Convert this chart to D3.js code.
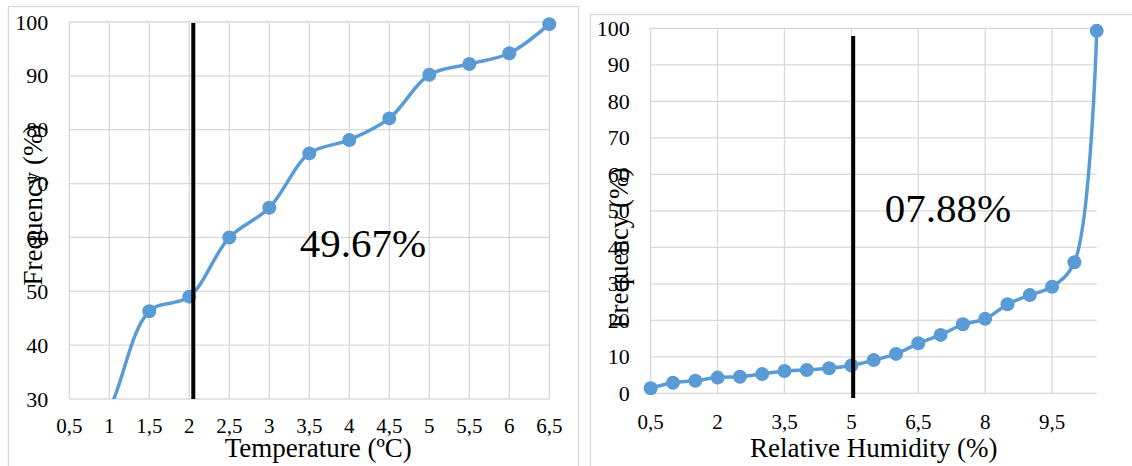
<!DOCTYPE html>
<html>
<head>
<meta charset="utf-8">
<script src="https://cdn.jsdelivr.net/npm/d3@7"></script>
<style>
  html, body { margin: 0; padding: 0; background: #ffffff; }
  svg { display: block; }
</style>
</head>
<body>
<svg id="chart" width="1132" height="466"></svg>
<script>
// Cumulative frequency vs. temperature
const tempCategories = ["0,5", "1", "1,5", "2", "2,5", "3", "3,5", "4", "4,5", "5", "5,5", "6", "6,5"];
const tempValues = [0.5, 1, 1.5, 2, 2.5, 3, 3.5, 4, 4.5, 5, 5.5, 6, 6.5];
const tempFrequency = [15, 28, 46.3, 49.0, 60.0, 65.5, 75.6, 78.1, 82.1, 90.2, 92.2, 94.2, 99.6];
const tempYTicks = [30, 40, 50, 60, 70, 80, 90, 100];
const tempCutoff = 2.05;
const tempCutoffLabel = "49.67%";

// Cumulative frequency vs. relative humidity
const humCategories = ["0,5", "1", "1,5", "2", "2,5", "3", "3,5", "4", "4,5", "5", "5,5",
                       "6", "6,5", "7", "7,5", "8", "8,5", "9", "9,5", "10", "10,5"];
const humValues = [0.5, 1, 1.5, 2, 2.5, 3, 3.5, 4, 4.5, 5, 5.5, 6, 6.5, 7, 7.5, 8, 8.5, 9, 9.5, 10, 10.5];
const humFrequency = [1.4, 2.9, 3.45, 4.3, 4.55, 5.3, 6.1, 6.4, 6.85, 7.6, 9.1,
                      10.8, 13.7, 16.0, 18.9, 20.4, 24.4, 26.9, 29.2, 35.9, 99.3];
const humXTickLabels = ["0,5", "2", "3,5", "5", "6,5", "8", "9,5"];
const humYTicks = [0, 10, 20, 30, 40, 50, 60, 70, 80, 90, 100];
const humCutoff = 5.04;
const humCutoffLabel = "07.88%";

const svg = d3.select("#chart");
const BLUE = "#5b9bd5";
const GRID = "#d9d9d9";
const FONT = "'Liberation Serif', 'Times New Roman', serif";

function drawPanel(p) {
  const g = svg.append("g").attr("font-family", FONT).attr("fill", "#000");

  // chart frame
  g.append("rect")
    .attr("x", p.frame[0]).attr("y", p.frame[1])
    .attr("width", p.frame[2]).attr("height", p.frame[3])
    .attr("fill", "none").attr("stroke", GRID).attr("stroke-width", 1.3);

  const x = d3.scalePoint().domain(p.categories).range([p.left, p.right]);
  const xv = d3.scaleLinear().domain([p.values[0], p.values[p.values.length - 1]]).range([p.left, p.right]);
  const y = d3.scaleLinear().domain(p.yDomain).range([p.bottom, p.top]);

  // horizontal gridlines
  g.append("g").selectAll("line").data(p.yTicks).join("line")
    .attr("x1", p.left).attr("x2", p.right)
    .attr("y1", d => y(d)).attr("y2", d => y(d))
    .attr("stroke", GRID).attr("stroke-width", 1.3);

  // vertical gridlines
  g.append("g").selectAll("line").data(p.xGrid).join("line")
    .attr("x1", d => x(d)).attr("x2", d => x(d))
    .attr("y1", p.top).attr("y2", p.bottom)
    .attr("stroke", GRID).attr("stroke-width", 1.3);

  // y tick labels
  g.append("g").selectAll("text").data(p.yTicks).join("text")
    .attr("x", p.left - 21).attr("y", d => y(d))
    .attr("text-anchor", "end").attr("dominant-baseline", "central")
    .attr("font-family", FONT).attr("font-size", 22)
    .text(d => d);

  // x tick labels
  g.append("g").selectAll("text").data(p.xLabels).join("text")
    .attr("x", d => x(d)).attr("y", p.xTickBaseline)
    .attr("text-anchor", "middle")
    .attr("font-family", FONT).attr("font-size", 21)
    .text(d => d);

  // axis titles
  g.append("text")
    .attr("x", (p.left + p.right) / 2 + p.xTitleShift).attr("y", 456.5)
    .attr("text-anchor", "middle")
    .attr("font-family", FONT).attr("font-size", 27)
    .text(p.xTitle);

  g.append("text")
    .attr("transform", `translate(${p.yTitlePos[0]},${p.yTitlePos[1]}) rotate(-90)`)
    .attr("text-anchor", "middle").attr("dominant-baseline", "central")
    .attr("font-family", FONT).attr("font-size", 27)
    .text("Frequency (%)");

  // clip series to the plot area
  const clipId = "clip-" + p.id;
  svg.append("defs").append("clipPath").attr("id", clipId)
    .append("rect")
    .attr("x", p.left - 10).attr("y", p.top - 10)
    .attr("width", p.right - p.left + 20).attr("height", p.bottom - p.top + 10);

  const pts = p.categories.map((c, i) => ({ c, v: p.freq[i] }));
  const line = d3.line()
    .x(d => x(d.c)).y(d => y(d.v))
    .curve(d3.curveCatmullRom.alpha(0.5));

  const series = g.append("g").attr("clip-path", `url(#${clipId})`);
  series.append("path")
    .datum(pts)
    .attr("d", line)
    .attr("fill", "none").attr("stroke", BLUE)
    .attr("stroke-width", 3.5).attr("stroke-linejoin", "round");

  g.append("g").selectAll("circle")
    .data(pts.filter(d => d.v >= p.yDomain[0]))
    .join("circle")
    .attr("cx", d => x(d.c)).attr("cy", d => y(d.v))
    .attr("r", 7).attr("fill", BLUE);

  // cutoff marker
  g.append("line")
    .attr("x1", xv(p.cutoff)).attr("x2", xv(p.cutoff))
    .attr("y1", y(p.cutoffRange[1])).attr("y2", y(p.cutoffRange[0]))
    .attr("stroke", "#000").attr("stroke-width", 4);

  g.append("text")
    .attr("x", xv(p.labelAt[0])).attr("y", y(p.labelAt[1]))
    .attr("font-family", FONT).attr("font-size", 41)
    .text(p.cutoffLabel);
}

drawPanel({
  id: "temp",
  frame: [8.5, 6.5, 570, 480],
  left: 69.3, right: 549.3, top: 22, bottom: 399,
  categories: tempCategories, values: tempValues, freq: tempFrequency,
  xLabels: tempCategories, xGrid: tempCategories, xTickBaseline: 432.5,
  yDomain: [30, 100], yTicks: tempYTicks,
  xTitle: "Temperature (ºC)", xTitleShift: 9, yTitlePos: [33, 205],
  cutoff: tempCutoff, cutoffRange: [30, 99.8],
  cutoffLabel: tempCutoffLabel, labelAt: [3.38, 56.4]
});

drawPanel({
  id: "hum",
  frame: [590.5, 14.5, 560, 480],
  left: 650.7, right: 1096.7, top: 28.3, bottom: 393.3,
  categories: humCategories, values: humValues, freq: humFrequency,
  xLabels: humXTickLabels, xGrid: humXTickLabels, xTickBaseline: 428.5,
  yDomain: [0, 100], yTicks: humYTicks,
  xTitle: "Relative Humidity (%)", xTitleShift: 0, yTitlePos: [619, 248],
  cutoff: humCutoff, cutoffRange: [-1.3, 97.9],
  cutoffLabel: humCutoffLabel, labelAt: [5.75, 47.0]
});
</script>
</body>
</html>
